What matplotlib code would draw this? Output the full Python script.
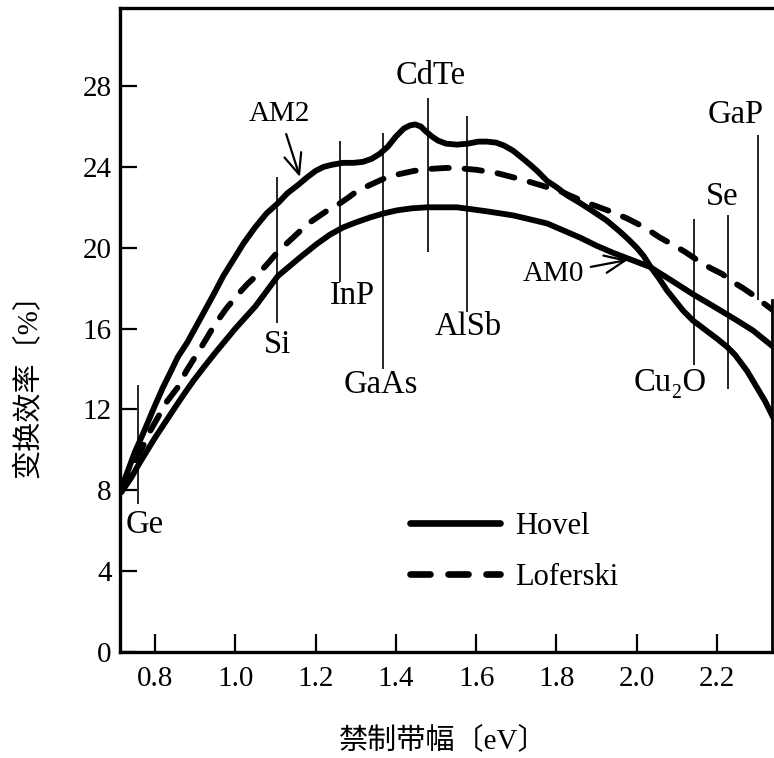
import matplotlib
matplotlib.use("Agg")
import matplotlib.pyplot as plt
from matplotlib.lines import Line2D

# ---------------- data ----------------
am2_x = [0.716, 0.735, 0.750, 0.768, 0.783, 0.800, 0.820, 0.840, 0.857, 0.880,
         0.905, 0.927, 0.949, 0.970, 0.992, 1.020, 1.049, 1.078, 1.106, 1.130,
         1.156, 1.180, 1.200, 1.220, 1.240, 1.268, 1.295, 1.318, 1.340, 1.360,
         1.380, 1.400, 1.420, 1.435, 1.448, 1.462, 1.475, 1.490, 1.505, 1.525,
         1.552, 1.580, 1.605, 1.627, 1.650, 1.670, 1.692, 1.717, 1.735, 1.752,
         1.777, 1.800, 1.826, 1.860, 1.891, 1.925, 1.958, 1.980, 2.000, 2.017,
         2.033, 2.055, 2.075, 2.095, 2.115, 2.140, 2.160, 2.180, 2.200, 2.225,
         2.245, 2.260, 2.275, 2.290, 2.305, 2.320, 2.340]
am2_y = [8.1, 9.1, 9.9, 10.7, 11.4, 12.2, 13.1, 13.9, 14.6, 15.3,
         16.2, 17.0, 17.8, 18.6, 19.3, 20.2, 21.0, 21.7, 22.2, 22.7,
         23.1, 23.5, 23.8, 24.0, 24.1, 24.2, 24.2, 24.25, 24.4, 24.65,
         25.0, 25.5, 25.9, 26.05, 26.1, 26.0, 25.75, 25.5, 25.3, 25.15,
         25.1, 25.15, 25.25, 25.25, 25.2, 25.05, 24.8, 24.4, 24.1, 23.8,
         23.3, 23.0, 22.6, 22.2, 21.8, 21.35, 20.8, 20.4, 20.0, 19.6,
         19.1, 18.5, 17.9, 17.4, 16.9, 16.4, 16.1, 15.8, 15.5, 15.1,
         14.7, 14.3, 13.9, 13.4, 12.9, 12.4, 11.6]

lof_x = [0.716, 0.740, 0.768, 0.787, 0.807, 0.830, 0.857, 0.878, 0.900, 0.925,
         0.949, 0.978, 1.007, 1.030, 1.057, 1.080, 1.106, 1.133, 1.160, 1.182,
         1.204, 1.230, 1.261, 1.283, 1.303, 1.335, 1.368, 1.390, 1.410, 1.445,
         1.485, 1.527, 1.565, 1.602, 1.650, 1.709, 1.760, 1.809, 1.866, 1.900,
         1.934, 1.976, 2.020, 2.058, 2.090, 2.120, 2.150, 2.183, 2.213, 2.240,
         2.265, 2.287, 2.313, 2.340]
lof_y = [8.0, 9.1, 10.1, 10.9, 11.6, 12.4, 13.1, 13.9, 14.6, 15.4,
         16.2, 17.0, 17.7, 18.2, 18.7, 19.2, 19.8, 20.3, 20.8, 21.2,
         21.5, 21.85, 22.2, 22.5, 22.8, 23.1, 23.4, 23.55, 23.65, 23.8,
         23.9, 23.95, 23.92, 23.85, 23.7, 23.4, 23.1, 22.8, 22.3, 22.05,
         21.8, 21.45, 21.0, 20.5, 20.15, 19.8, 19.4, 19.0, 18.7, 18.3,
         18.0, 17.7, 17.3, 16.9]

am0_x = [0.716, 0.740, 0.760, 0.780, 0.800, 0.825, 0.850, 0.872, 0.895, 0.922,
         0.950, 0.975, 1.000, 1.025, 1.050, 1.078, 1.106, 1.133, 1.160, 1.182,
         1.204, 1.236, 1.268, 1.300, 1.336, 1.370, 1.403, 1.440, 1.478, 1.515,
         1.552, 1.590, 1.627, 1.660, 1.692, 1.735, 1.777, 1.818, 1.859, 1.900,
         1.941, 1.987, 2.033, 2.085, 2.140, 2.183, 2.225, 2.258, 2.290, 2.315,
         2.340]
am0_y = [7.9, 8.6, 9.3, 9.95, 10.6, 11.35, 12.1, 12.75, 13.4, 14.1,
         14.8, 15.4, 16.0, 16.55, 17.1, 17.85, 18.6, 19.05, 19.5, 19.85,
         20.2, 20.65, 21.0, 21.25, 21.5, 21.7, 21.85, 21.95, 22.0, 22.0,
         22.0, 21.9, 21.8, 21.7, 21.6, 21.4, 21.2, 20.85, 20.5, 20.1,
         19.75, 19.4, 19.05, 18.4, 17.7, 17.2, 16.7, 16.3, 15.9, 15.5,
         15.1]

materials = ["Ge", "Si", "InP", "GaAs", "CdTe", "AlSb", "Cu₂O", "Se", "GaP"]
mat_gap = [0.758, 1.104, 1.262, 1.368, 1.480, 1.577, 2.143, 2.227, 2.302]
mat_low = [7.3, 16.3, 18.3, 14.0, 19.8, 16.8, 14.2, 13.0, 17.4]
mat_high = [13.2, 23.5, 25.3, 25.7, 27.4, 26.5, 21.4, 21.6, 25.6]

xticks = [0.8, 1.0, 1.2, 1.4, 1.6, 1.8, 2.0, 2.2]
yticks = [0, 4, 8, 12, 16, 20, 24, 28]
series_labels = ["Hovel", "Loferski"]

# label placement (layout only)
mat_label_pos = [(0.775, 6.3), (1.104, 15.2), (1.291, 17.6), (1.363, 13.2),
                 (1.488, 28.5), (1.580, 16.1), (2.083, 13.3), (2.213, 22.5),
                 (2.247, 26.6)]

# ---------------- style ----------------
SERIF = ["Liberation Serif", "DejaVu Serif"]
MIXED = ["Liberation Serif", "Noto Sans CJK SC", "DejaVu Sans"]
plt.rcParams["font.family"] = SERIF
LW = 4.2
DASH = (0, (3.0, 2.7))

fig = plt.figure(figsize=(7.74, 7.58), dpi=100)
ax = fig.add_axes([120 / 774, 1 - 652 / 758, 652 / 774, 644 / 758])
ax.set_xlim(0.7128, 2.337)
ax.set_ylim(0, 31.86)

ax.plot(am2_x, am2_y, color="black", lw=LW, solid_capstyle="round",
        solid_joinstyle="round")
ax.plot(am0_x, am0_y, color="black", lw=LW, solid_capstyle="round",
        solid_joinstyle="round")
ax.plot(lof_x, lof_y, color="black", lw=LW, ls=DASH, dash_capstyle="round")

ax.vlines(mat_gap, mat_low, mat_high, color="black", lw=1.2)
for name, (lx, ly) in zip(materials, mat_label_pos):
    ax.text(lx, ly, name, ha="center", va="center", fontsize=23.5,
            family=SERIF)

ax.annotate("AM2", xy=(1.161, 23.5), xytext=(1.111, 26.6), ha="center",
            va="center", fontsize=21,
            arrowprops=dict(arrowstyle="->,head_length=0.7,head_width=0.3",
                            lw=1.6, color="black", shrinkA=3, shrinkB=0))
ax.annotate("AM0", xy=(1.978, 19.4), xytext=(1.792, 18.7), ha="center",
            va="center", fontsize=21,
            arrowprops=dict(arrowstyle="->,head_length=0.7,head_width=0.3",
                            lw=1.6, color="black", shrinkA=3, shrinkB=0))

handles = [Line2D([], [], color="black", lw=LW + 0.6, solid_capstyle="round"),
           Line2D([], [], color="black", lw=LW + 0.6, ls=DASH,
                  dash_capstyle="round")]
ax.legend(handles, series_labels, loc="center left",
          bbox_to_anchor=(0.445, 0.155), frameon=False, fontsize=22,
          handlelength=2.95, handletextpad=0.5, labelspacing=0.72,
          borderpad=0, borderaxespad=0)

ax.set_xticks(xticks)
ax.set_xticklabels([f"{v:.1f}" for v in xticks])
ax.set_yticks(yticks)
ax.set_yticklabels([str(v) for v in yticks])
ax.tick_params(axis="both", direction="in", width=1.6, labelsize=21,
               top=False, right=False)
ax.tick_params(axis="x", length=13, pad=10)
ax.tick_params(axis="y", length=12, pad=6)

for s in ["left", "bottom", "top"]:
    ax.spines[s].set_linewidth(2.4)
ax.spines["right"].set_linewidth(2.0)
ax.spines["right"].set_bounds(0, 17.4)

ax.set_xlabel("禁制带幅〔eV〕", fontsize=21, family=MIXED)
ax.xaxis.set_label_coords(0.496, -0.115)
ax.set_ylabel("变换效率〔%〕", fontsize=21, family=MIXED)
ax.yaxis.set_label_coords(-0.118, 0.425)

fig.savefig("out.png", dpi=100)
